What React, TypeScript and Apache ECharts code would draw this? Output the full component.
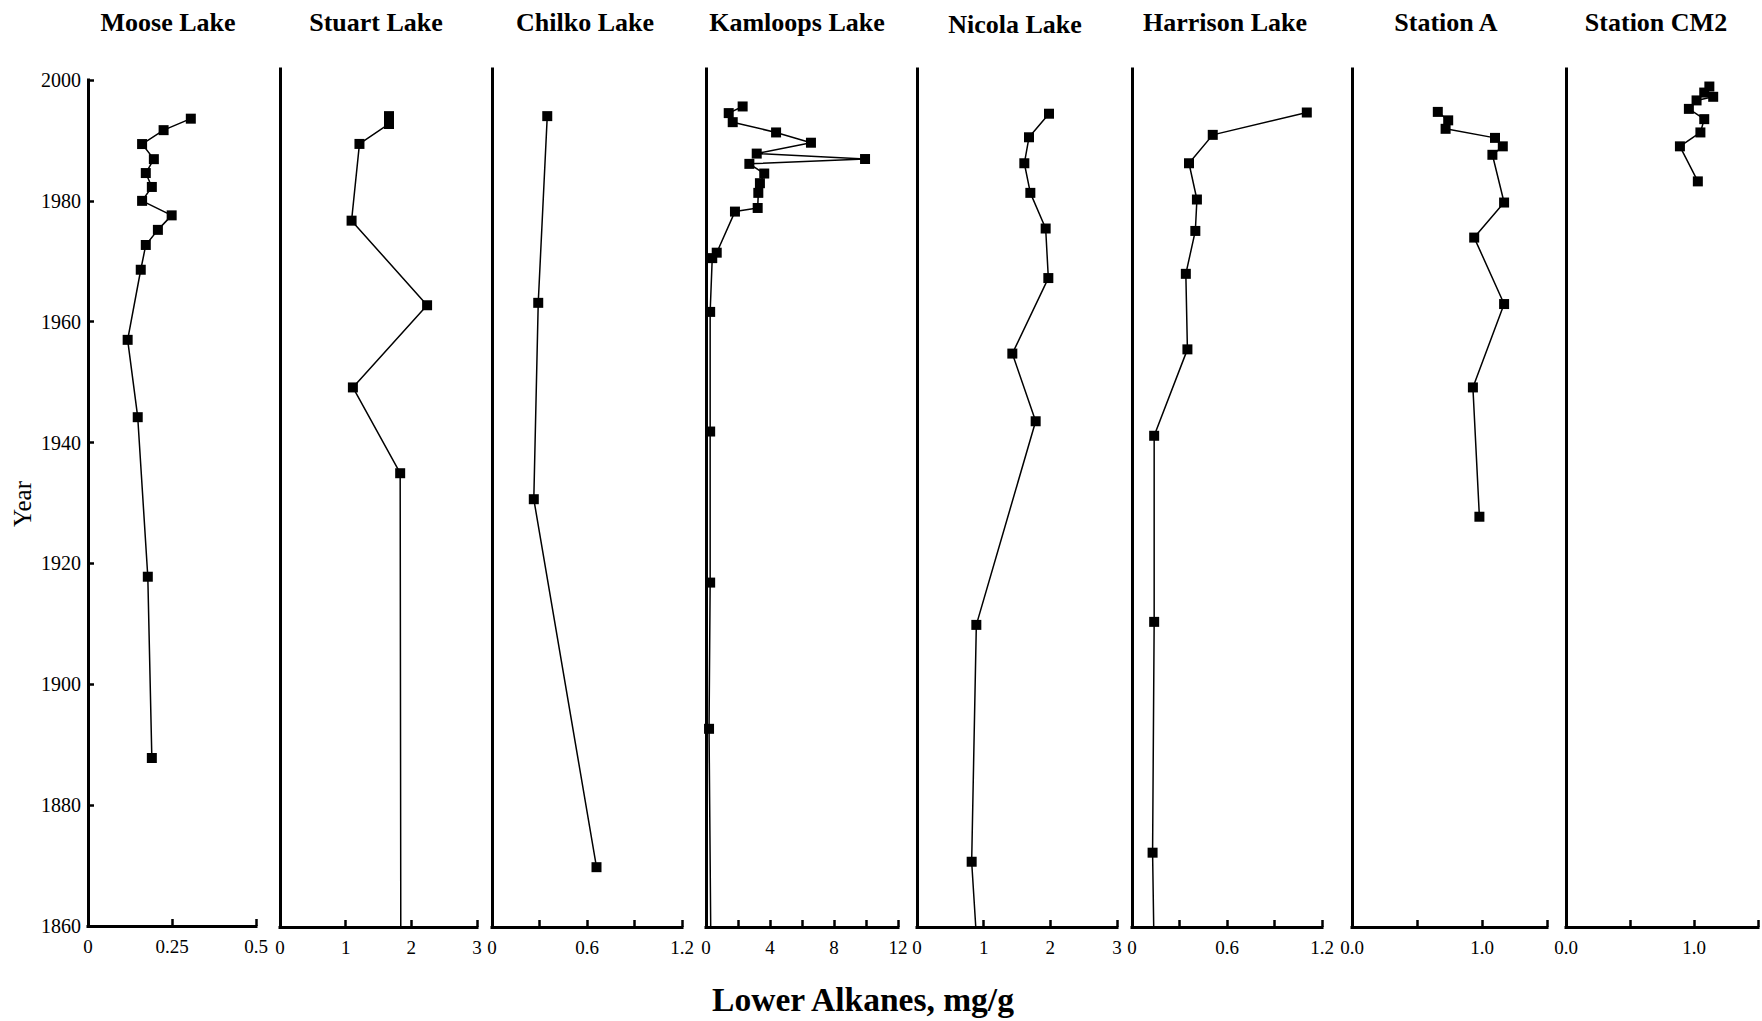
import React, { useEffect, useRef } from "react";
import * as echarts from "echarts";

// Sediment-core profiles: [lower alkanes (mg/g), year]
const stationNames = [
  "Moose Lake",
  "Stuart Lake",
  "Chilko Lake",
  "Kamloops Lake",
  "Nicola Lake",
  "Harrison Lake",
  "Station A",
  "Station CM2",
];

const mooseLake = [
  [0.306, 1993.6], [0.225, 1991.7], [0.161, 1989.4], [0.196, 1986.9], [0.172, 1984.6],
  [0.19, 1982.3], [0.161, 1980.0], [0.249, 1977.6], [0.208, 1975.2], [0.172, 1972.7],
  [0.157, 1968.6], [0.118, 1957.0], [0.148, 1944.2], [0.178, 1917.8], [0.19, 1887.8],
];

const stuartLake = [
  [1.66, 1994.2], [1.66, 1992.9], [1.21, 1989.6], [1.09, 1976.9], [2.24, 1962.9],
  [1.11, 1949.3], [1.83, 1935.1], [1.84, 1855],
];

const chilkoLake = [
  [0.349, 1994.2], [0.292, 1963.3], [0.264, 1930.8], [0.66, 1869.9],
];

const kamloopsLake = [
  [2.29, 1995.8], [1.42, 1994.7], [1.67, 1993.2], [4.38, 1991.5], [6.56, 1989.8],
  [3.17, 1988.0], [9.94, 1987.1], [2.71, 1986.3], [3.64, 1984.7], [3.37, 1983.1],
  [3.27, 1981.5], [3.23, 1979.0], [1.81, 1978.4], [0.67, 1971.6], [0.39, 1970.7],
  [0.26, 1961.8], [0.26, 1942.0], [0.26, 1917.0], [0.19, 1892.8], [0.31, 1855],
];

const nicolaLake = [
  [1.98, 1994.6], [1.68, 1990.7], [1.61, 1986.4], [1.7, 1981.5], [1.93, 1975.6],
  [1.97, 1967.4], [1.43, 1954.9], [1.78, 1943.7], [0.89, 1910.0], [0.82, 1870.8],
  [0.91, 1855],
];

const harrisonLake = [
  [1.104, 1994.8], [0.51, 1991.1], [0.36, 1986.4], [0.41, 1980.4], [0.4, 1975.2],
  [0.34, 1968.1], [0.35, 1955.6], [0.14, 1941.3], [0.14, 1910.5], [0.13, 1872.3],
  [0.14, 1855],
];

const stationA = [
  [0.66, 1994.9], [0.74, 1993.5], [0.72, 1992.1], [1.1, 1990.6], [1.16, 1989.2],
  [1.08, 1987.8], [1.17, 1979.9], [0.94, 1974.1], [1.17, 1963.1], [0.93, 1949.3],
  [0.98, 1927.9],
];

const stationCM2 = [
  [1.12, 1999.1], [1.08, 1998.1], [1.15, 1997.4], [1.02, 1996.8], [0.96, 1995.4],
  [1.08, 1993.7], [1.05, 1991.5], [0.89, 1989.2], [1.03, 1983.4],
];

const profiles = [
  mooseLake, stuartLake, chilkoLake, kamloopsLake,
  nicolaLake, harrisonLake, stationA, stationCM2,
];

// x-axis extents, tick spacing and which ticks carry a label
const xMax = [0.5, 3, 1.2, 12, 3, 1.2, 1.5, 1.5];
const xInterval = [0.25, 1, 0.3, 2, 1, 0.3, 0.5, 0.5];
const xTickLabels: [number, string][][] = [
  [[0, "0"], [0.25, "0.25"], [0.5, "0.5"]],
  [[0, "0"], [1, "1"], [2, "2"], [3, "3"]],
  [[0, "0"], [0.6, "0.6"], [1.2, "1.2"]],
  [[0, "0"], [4, "4"], [8, "8"], [12, "12"]],
  [[0, "0"], [1, "1"], [2, "2"], [3, "3"]],
  [[0, "0"], [0.6, "0.6"], [1.2, "1.2"]],
  [[0, "0.0"], [1, "1.0"]],
  [[0, "0.0"], [1, "1.0"]],
];

const yearMin = 1860;
const yearMax = 2000;
const yearStep = 20;

const xTitle = "Lower Alkanes, mg/g";
const yTitle = "Year";

// panel layout (px)
const panelLeft = [88, 280, 492, 706, 917, 1132, 1352, 1566];
const panelWidth = [168, 197, 190, 192, 200, 190, 195, 192];
const titleX = [168, 376, 585, 797, 1015, 1225, 1446, 1656];
const titleY = [22, 22, 22, 22, 24, 22, 22, 22];

const FONT = "Liberation Serif, Times New Roman, serif";

export default function App() {
  const ref = useRef<HTMLDivElement>(null);

  useEffect(() => {
    if (!ref.current) return;
    const chart = echarts.init(ref.current, undefined, { renderer: "svg" });

    const axisLineStyle = { color: "#000", width: 3, cap: "square" as const };

    const grid = panelLeft.map((left, i) =>
      i === 0
        ? { left, width: panelWidth[i], top: 80, height: 846 }
        : { left, width: panelWidth[i], top: 69, height: 858 }
    );

    const xAxis = panelLeft.map((_, i) => ({
      type: "value" as const,
      gridIndex: i,
      min: 0,
      max: xMax[i],
      interval: xInterval[i],
      axisLine: { show: true, onZero: false, lineStyle: axisLineStyle },
      axisTick: {
        show: true,
        inside: true,
        length: 7,
        lineStyle: { color: "#000", width: 2.5 },
      },
      axisLabel: {
        show: true,
        margin: 11,
        color: "#000",
        fontFamily: FONT,
        fontSize: 19,
        showMinLabel: true,
        showMaxLabel: true,
        formatter: (v: number) => {
          const hit = xTickLabels[i].find(([t]) => Math.abs(t - v) < 1e-6);
          return hit ? hit[1] : "";
        },
      },
      splitLine: { show: false },
    }));

    const yAxis = panelLeft.map((_, i) => ({
      type: "value" as const,
      gridIndex: i,
      min: yearMin,
      max: i === 0 ? yearMax : yearMax + 2,
      interval: yearStep,
      axisLine: { show: true, onZero: false, lineStyle: axisLineStyle },
      axisTick:
        i === 0
          ? { show: true, inside: true, length: 6, lineStyle: { color: "#000", width: 2.5 } }
          : { show: false },
      axisLabel:
        i === 0
          ? {
              show: true,
              margin: 7,
              color: "#000",
              fontFamily: FONT,
              fontSize: 20,
              formatter: (v: number) => String(Math.round(v)),
            }
          : { show: false },
      splitLine: { show: false },
    }));

    const series = profiles.map((data, i) => ({
      type: "line" as const,
      name: stationNames[i],
      xAxisIndex: i,
      yAxisIndex: i,
      data,
      clip: true,
      symbol: "rect",
      symbolSize: 10,
      showSymbol: true,
      showAllSymbol: true,
      lineStyle: { color: "#000", width: 1.5 },
      itemStyle: { color: "#000" },
    }));

    const titles = stationNames.map((name, i) => ({
      type: "text" as const,
      x: titleX[i],
      y: titleY[i],
      style: {
        text: name,
        font: `bold 26px ${FONT}`,
        fill: "#000",
        textAlign: "center",
        textVerticalAlign: "middle",
      },
    }));

    chart.setOption({
      animation: false,
      backgroundColor: "#fff",
      grid,
      xAxis,
      yAxis,
      series,
      graphic: [
        ...titles,
        {
          type: "text",
          x: 22,
          y: 504,
          rotation: Math.PI / 2,
          style: {
            text: yTitle,
            font: `25px ${FONT}`,
            fill: "#000",
            textAlign: "center",
            textVerticalAlign: "middle",
          },
        },
        {
          type: "text",
          x: 863,
          y: 999,
          style: {
            text: xTitle,
            font: `bold 33.5px ${FONT}`,
            fill: "#000",
            textAlign: "center",
            textVerticalAlign: "middle",
          },
        },
      ],
    });

    return () => chart.dispose();
  }, []);

  return (
    <div
      ref={ref}
      style={{ position: "fixed", left: 0, top: 0, width: "1762px", height: "1021px" }}
    />
  );
}
